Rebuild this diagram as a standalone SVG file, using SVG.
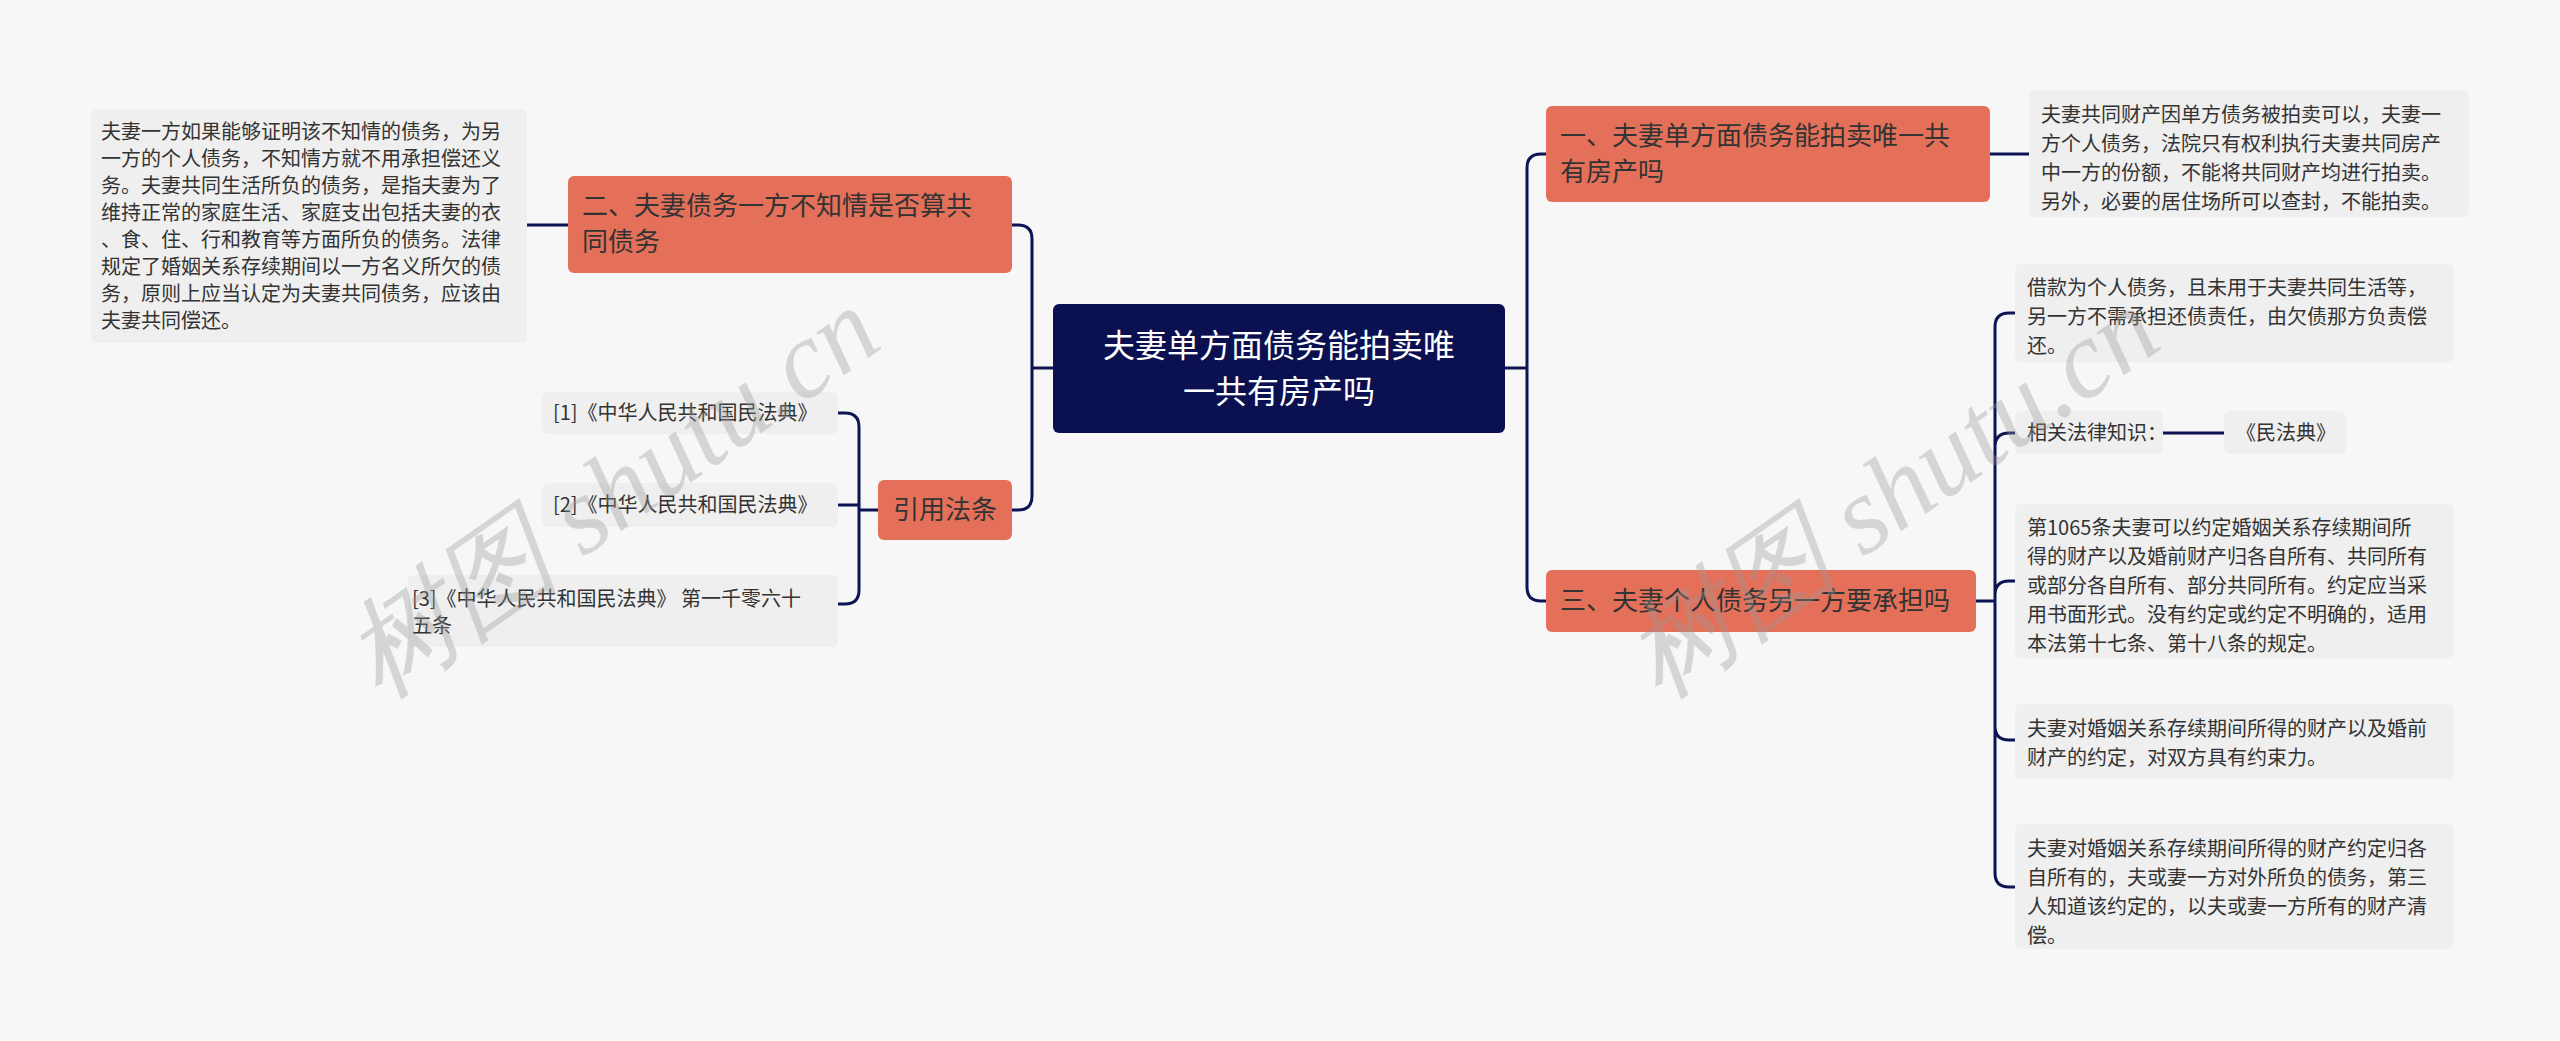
<svg xmlns="http://www.w3.org/2000/svg" width="2560" height="1041" viewBox="0 0 2560 1041">
<style>
text{font-family:"Noto Sans CJK SC","Liberation Sans",sans-serif;}
.leaf{fill:#efefef;}
.lt{font-size:20px;fill:#333;}
.br{fill:#e5705a;}
.bt{font-size:26px;fill:#333;}
.c{fill:none;stroke:#0d1454;stroke-width:3;}
.wm{font-family:"Liberation Serif",serif;font-size:110px;fill:#999;opacity:0.35;font-style:italic;}
</style>
<rect width="2560" height="1041" fill="#f7f7f7"/>
<g id="connectors">
<path class="c" d="M1505,368 H1527 M1527,368 V168 Q1527,154 1541,154 H1546 M1527,368 V587 Q1527,601 1541,601 H1546"/>
<path class="c" d="M1990,154 H2029"/>
<path class="c" d="M1976,601 H1995 M1995,601 V327 Q1995,313 2009,313 H2015 M1995,601 V447 Q1995,433 2009,433 H2015 M1995,601 V595 Q1995,581 2009,581 H2015 M1995,601 V726 Q1995,740 2009,740 H2015 M1995,601 V873 Q1995,887 2009,887 H2015"/>
<path class="c" d="M2163,433 H2224"/>
<path class="c" d="M1053,368 H1032 M1032,368 V239 Q1032,225 1018,225 H1012 M1032,368 V496 Q1032,510 1018,510 H1012"/>
<path class="c" d="M568,225 H527"/>
<path class="c" d="M878,510 H859 M859,510 V427 Q859,413 845,413 H838 M859,510 V505 H838 M859,510 V590 Q859,604 845,604 H838"/>
</g>
<g id="center"><rect x="1053" y="304" width="452" height="129" rx="6" fill="#0b1150"/>
<text x="1279" y="357" font-size="32" fill="#fff" text-anchor="middle">夫妻单方面债务能拍卖唯</text>
<text x="1279" y="403" font-size="32" fill="#fff" text-anchor="middle">一共有房产吗</text></g>
<g id="n1"><rect class="br" x="1546" y="106" width="444" height="96" rx="6"/>
<text class="bt" x="1560" y="145">一、夫妻单方面债务能拍卖唯一共</text><text class="bt" x="1560" y="181">有房产吗</text></g>
<g id="l1"><rect class="leaf" x="2029" y="90" width="440" height="127" rx="6"/>
<text class="lt" x="2041" y="122">夫妻共同财产因单方债务被拍卖可以，夫妻一</text>
<text class="lt" x="2041" y="151">方个人债务，法院只有权利执行夫妻共同房产</text>
<text class="lt" x="2041" y="180">中一方的份额，不能将共同财产均进行拍卖。</text>
<text class="lt" x="2041" y="209">另外，必要的居住场所可以查封，不能拍卖。</text></g>
<g id="n3"><rect class="br" x="1546" y="570" width="430" height="62" rx="6"/>
<text class="bt" x="1560" y="610">三、夫妻个人债务另一方要承担吗</text></g>
<g id="l2"><rect class="leaf" x="2015" y="264" width="439" height="98" rx="6"/>
<text class="lt" x="2027" y="295">借款为个人债务，且未用于夫妻共同生活等，</text>
<text class="lt" x="2027" y="324">另一方不需承担还债责任，由欠债那方负责偿</text>
<text class="lt" x="2027" y="353">还。</text></g>
<g id="l3"><rect class="leaf" x="2015" y="411" width="148" height="43" rx="6"/>
<text class="lt" x="2027" y="440">相关法律知识：</text></g>
<g id="l3b"><rect class="leaf" x="2224" y="411" width="122" height="43" rx="6"/>
<text class="lt" x="2236" y="440">《民法典》</text></g>
<g id="l4"><rect class="leaf" x="2015" y="504" width="439" height="154" rx="6"/>
<text class="lt" x="2027" y="535">第1065条夫妻可以约定婚姻关系存续期间所</text>
<text class="lt" x="2027" y="564">得的财产以及婚前财产归各自所有、共同所有</text>
<text class="lt" x="2027" y="593">或部分各自所有、部分共同所有。约定应当采</text>
<text class="lt" x="2027" y="622">用书面形式。没有约定或约定不明确的，适用</text>
<text class="lt" x="2027" y="651">本法第十七条、第十八条的规定。</text></g>
<g id="l5"><rect class="leaf" x="2015" y="704" width="439" height="75" rx="6"/>
<text class="lt" x="2027" y="736">夫妻对婚姻关系存续期间所得的财产以及婚前</text>
<text class="lt" x="2027" y="765">财产的约定，对双方具有约束力。</text></g>
<g id="l6"><rect class="leaf" x="2015" y="824" width="439" height="125" rx="6"/>
<text class="lt" x="2027" y="856">夫妻对婚姻关系存续期间所得的财产约定归各</text>
<text class="lt" x="2027" y="885">自所有的，夫或妻一方对外所负的债务，第三</text>
<text class="lt" x="2027" y="914">人知道该约定的，以夫或妻一方所有的财产清</text>
<text class="lt" x="2027" y="943">偿。</text></g>
<g id="n2"><rect class="br" x="568" y="176" width="444" height="97" rx="6"/>
<text class="bt" x="582" y="215">二、夫妻债务一方不知情是否算共</text><text class="bt" x="582" y="251">同债务</text></g>
<g id="l0"><rect class="leaf" x="91" y="109" width="436" height="234" rx="6"/>
<text class="lt" x="101" y="139">夫妻一方如果能够证明该不知情的债务，为另</text>
<text class="lt" x="101" y="166">一方的个人债务，不知情方就不用承担偿还义</text>
<text class="lt" x="101" y="193">务。夫妻共同生活所负的债务，是指夫妻为了</text>
<text class="lt" x="101" y="220">维持正常的家庭生活、家庭支出包括夫妻的衣</text>
<text class="lt" x="101" y="247">、食、住、行和教育等方面所负的债务。法律</text>
<text class="lt" x="101" y="274">规定了婚姻关系存续期间以一方名义所欠的债</text>
<text class="lt" x="101" y="301">务，原则上应当认定为夫妻共同债务，应该由</text>
<text class="lt" x="101" y="328">夫妻共同偿还。</text></g>
<g id="n4"><rect class="br" x="878" y="480" width="134" height="60" rx="6"/>
<text class="bt" x="945" y="519" text-anchor="middle">引用法条</text></g>
<g id="r1"><rect class="leaf" x="542" y="392" width="296" height="42" rx="6"/>
<text class="lt" x="553" y="420">[1]《中华人民共和国民法典》</text></g>
<g id="r2"><rect class="leaf" x="542" y="483" width="296" height="44" rx="6"/>
<text class="lt" x="553" y="512">[2]《中华人民共和国民法典》</text></g>
<g id="r3"><rect class="leaf" x="408" y="575" width="430" height="72" rx="6"/>
<text class="lt" x="412" y="606">[3]《中华人民共和国民法典》 第一千零六十</text>
<text class="lt" x="412" y="633">五条</text></g>
<text class="wm" transform="translate(380,700) rotate(-35)">树图 shutu.cn</text>
<text class="wm" transform="translate(1660,700) rotate(-35)">树图 shutu.cn</text>
</svg>
